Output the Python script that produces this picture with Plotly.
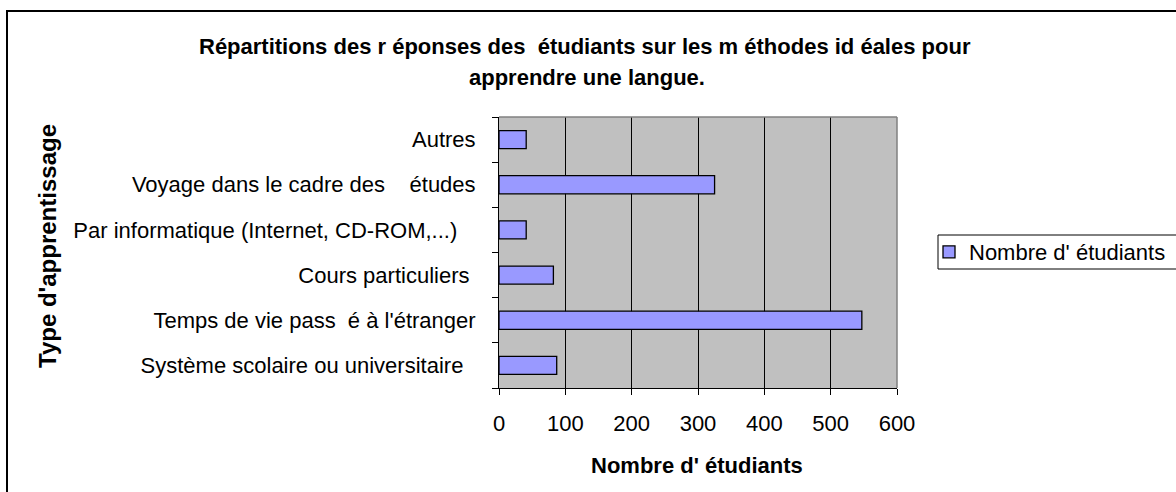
import plotly.graph_objects as go

NBSP = "\u00a0"
categories = [
    "Système scolaire ou universitaire" + NBSP * 2,
    "Temps de vie pass" + NBSP * 2 + "é à l'étranger",
    "Cours particuliers" + NBSP,
    "Par informatique (Internet, CD-ROM,...)" + NBSP * 3,
    "Voyage dans le cadre des" + NBSP * 4 + "études",
    "Autres",
]
values = [87, 547, 82, 41, 325, 41]
series_name = "Nombre d' étudiants"
x_ticks = [0, 100, 200, 300, 400, 500, 600]

title_line1 = "Répartitions des r" + NBSP + "éponses des" + NBSP * 2 + "étudiants sur les m" + NBSP + "éthodes id" + NBSP + "éales pour"
title_line2 = "apprendre une langue."
x_title = "Nombre d' étudiants"
y_title = "Type d'apprentissage"

W, H = 1176, 492
PL, PR, PT, PB = 499, 897, 117, 388
FONT = "Arial, Liberation Sans, sans-serif"

def px(xp):
    return (xp - PL) / (PR - PL)

def py(yp):
    return (PB - yp) / (PB - PT)

fig = go.Figure(
    go.Bar(
        y=categories,
        x=values,
        orientation="h",
        name=series_name,
        marker=dict(color="#9999FF", line=dict(color="#000000", width=1.3)),
        showlegend=True,
    )
)

fig.update_layout(
    width=W,
    height=H,
    margin=dict(l=PL, r=W - PR, t=PT, b=H - PB, pad=0, autoexpand=False),
    paper_bgcolor="#FFFFFF",
    plot_bgcolor="#C0C0C0",
    bargap=0.6,
    font=dict(family=FONT, size=22, color="#000000"),
    showlegend=True,
    legend=dict(
        x=px(929),
        y=py(231),
        xanchor="left",
        yanchor="top",
        bgcolor="rgba(0,0,0,0)",
        borderwidth=0,
        font=dict(family=FONT, size=22, color="#000000"),
    ),
)

fig.update_xaxes(
    range=[0, 600],
    tickvals=x_ticks,
    ticks="outside",
    ticklen=6,
    tickcolor="#000000",
    tickwidth=1,
    showgrid=True,
    gridcolor="#000000",
    gridwidth=1,
    showline=True,
    linecolor="#000000",
    linewidth=1,
    zeroline=False,
    automargin=False,
    tickfont=dict(family=FONT, size=22, color="#000000"),
    ticklabelstandoff=10,
    fixedrange=True,
)

fig.update_yaxes(
    type="category",
    categoryorder="array",
    categoryarray=categories,
    ticks="outside",
    tickson="boundaries",
    ticklen=6,
    tickcolor="#000000",
    tickwidth=1,
    showgrid=False,
    showline=True,
    linecolor="#000000",
    linewidth=1,
    automargin=False,
    tickfont=dict(family=FONT, size=22, color="#000000"),
    ticklabelstandoff=18,
    fixedrange=True,
)

shapes = [
    # gray plot border (top and right)
    dict(type="line", xref="paper", yref="paper", x0=0, x1=1, y0=1, y1=1,
         line=dict(color="#808080", width=1.5), layer="above"),
    dict(type="line", xref="paper", yref="paper", x0=1, x1=1, y0=0, y1=1,
         line=dict(color="#808080", width=1.5), layer="above"),
    # chart outer border (left and top)
    dict(type="line", xref="paper", yref="paper", x0=px(7), x1=px(7), y0=py(10), y1=py(500),
         line=dict(color="#000000", width=2)),
    dict(type="line", xref="paper", yref="paper", x0=px(6), x1=px(1200), y0=py(11), y1=py(11),
         line=dict(color="#000000", width=2)),
    # legend frame
    dict(type="rect", xref="paper", yref="paper", x0=px(938), x1=px(1190), y0=py(235), y1=py(269),
         line=dict(color="#000000", width=1), fillcolor="#FFFFFF", layer="below"),
]
fig.update_layout(shapes=shapes)

annotations = [
    dict(text="<b>" + title_line1 + "</b>", xref="paper", yref="paper",
         x=px(585), y=py(46), xanchor="center", yanchor="middle", showarrow=False,
         font=dict(family=FONT, size=22, color="#000000")),
    dict(text="<b>" + title_line2 + "</b>", xref="paper", yref="paper",
         x=px(587), y=py(78), xanchor="center", yanchor="middle", showarrow=False,
         font=dict(family=FONT, size=22, color="#000000")),
    dict(text="<b>" + x_title + "</b>", xref="paper", yref="paper",
         x=px(697), y=py(465), xanchor="center", yanchor="middle", showarrow=False,
         font=dict(family=FONT, size=22, color="#000000")),
    dict(text="<b>" + y_title + "</b>", xref="paper", yref="paper",
         x=px(47), y=py(370), xanchor="center", yanchor="bottom", showarrow=False,
         textangle=-90, font=dict(family=FONT, size=24, color="#000000")),
]
fig.update_layout(annotations=annotations)

fig.write_html(
    "out.html",
    include_plotlyjs=True,
    config={"displayModeBar": False, "staticPlot": True},
    post_script="document.body.style.margin='0px';",
)
